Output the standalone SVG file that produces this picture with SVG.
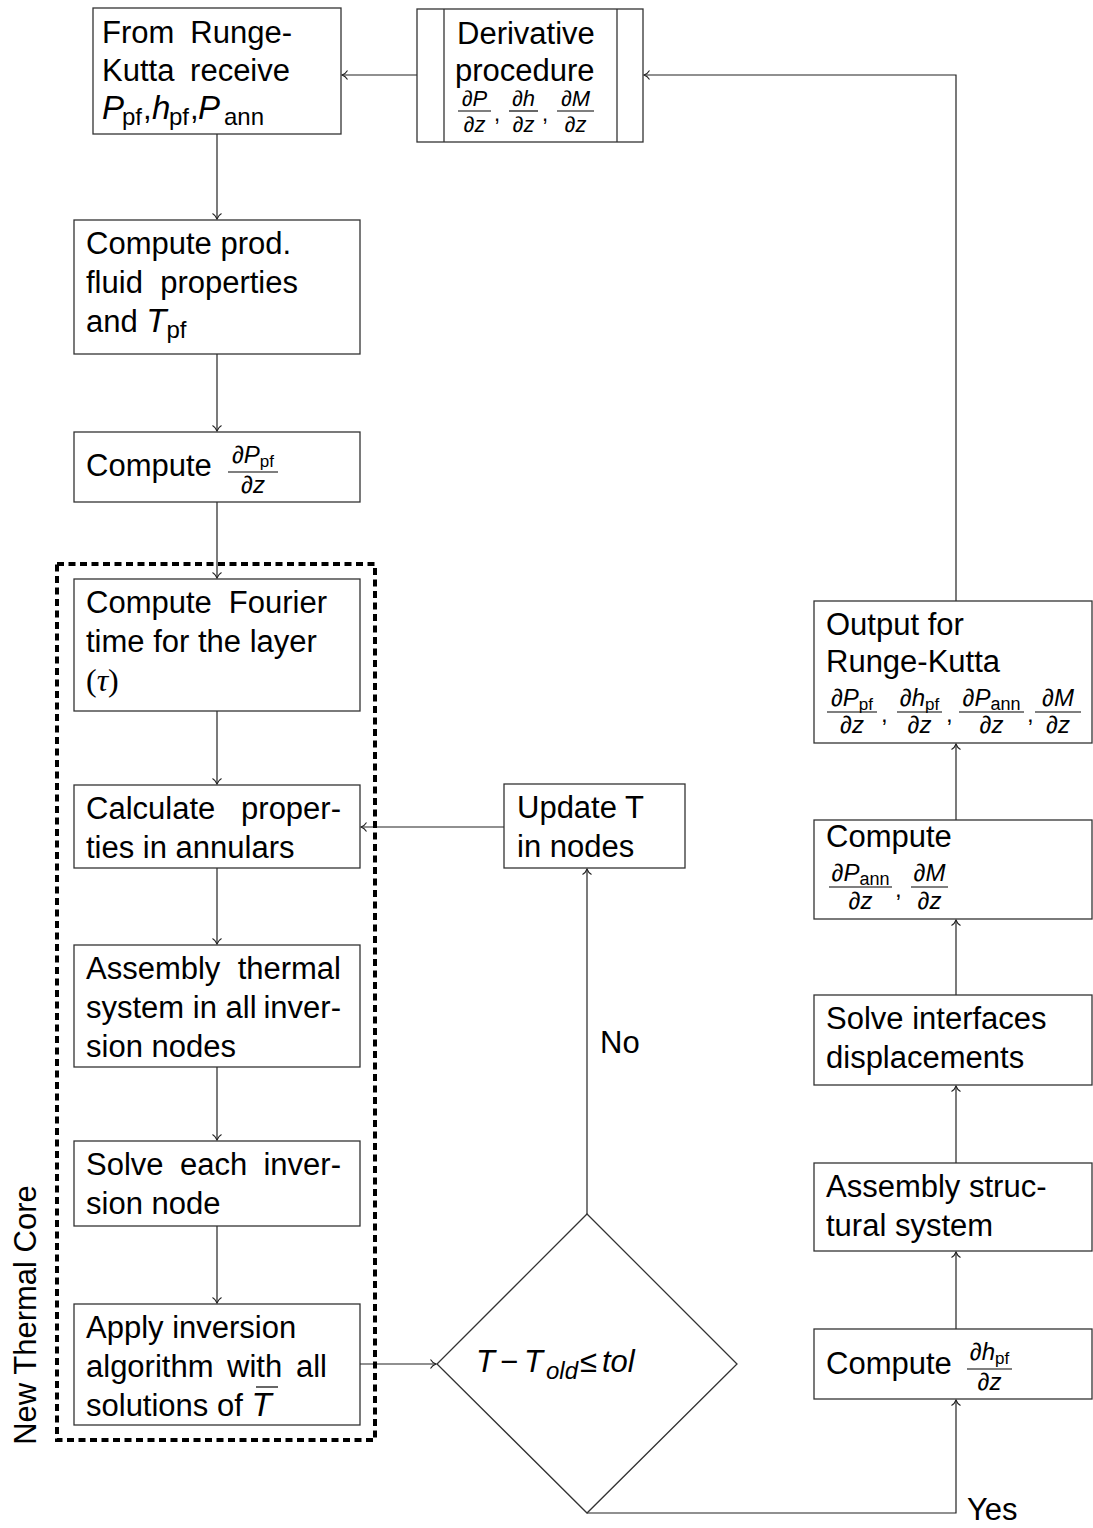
<svg xmlns="http://www.w3.org/2000/svg" width="1093" height="1528" viewBox="0 0 1093 1528">
<defs>
<style>
.box{fill:#fff;stroke:#333;stroke-width:1.3}
.t{font-family:"Liberation Sans",Arial,sans-serif;font-size:31px;fill:#000}
.m{font-style:italic}
.f{font-size:24px}
.fd{font-size:22px}
.fs{font-size:17px}
.sub{font-size:24px}
.bar{stroke:#000;stroke-width:1.2}
.conn{stroke:#222;stroke-width:1.2;fill:none;marker-end:url(#arr)}
.core{fill:none;stroke:#000;stroke-width:4;stroke-dasharray:7 4.5}
</style>
<marker id="arr" markerUnits="userSpaceOnUse" markerWidth="12" markerHeight="12" viewBox="-7 -6 8 12" refX="0" refY="0" orient="auto">
<path d="M -5.5 -4.5 C -3.8 -1.6 -1.5 -0.5 0 0 C -1.5 0.5 -3.8 1.6 -5.5 4.5" fill="none" stroke="#222" stroke-width="1.1"/>
</marker>
</defs>
<rect width="1093" height="1528" fill="#fff"/>

<g id="connectors">
<path class="conn" d="M417 75 H342"/>
<path class="conn" d="M956 601 V75 H644"/>
<path class="conn" d="M217 134 V219"/>
<path class="conn" d="M217 354 V431"/>
<path class="conn" d="M217 502 V578"/>
<path class="conn" d="M217 711 V784"/>
<path class="conn" d="M217 868 V944"/>
<path class="conn" d="M217 1067 V1140"/>
<path class="conn" d="M217 1226 V1303"/>
<path class="conn" d="M360 1364 H436"/>
<path class="conn" d="M587 1214 V869"/>
<path class="conn" d="M504 827 H361"/>
<path class="conn" d="M587 1513 H956 V1400"/>
<path class="conn" d="M956 1329 V1252"/>
<path class="conn" d="M956 1163 V1086"/>
<path class="conn" d="M956 995 V920"/>
<path class="conn" d="M956 820 V744"/>
</g>

<g id="thermal-core">
<rect class="core" x="57" y="564" width="318" height="876"/>
<text class="t" font-size="31" transform="translate(36,1315) rotate(-90)" text-anchor="middle">New Thermal Core</text>
</g>

<g id="node-receive">
<rect class="box" x="93" y="8" width="248" height="126"/>
<text class="t" y="43"><tspan x="102">From</tspan><tspan x="292" text-anchor="end">Runge-</tspan></text>
<text class="t" y="81"><tspan x="102">Kutta</tspan><tspan x="290" text-anchor="end">receive</tspan></text>
<text class="t" y="119"><tspan x="102" class="m" font-size="33">P</tspan><tspan x="122" class="sub" dy="6">pf</tspan><tspan x="143" dy="-6">,</tspan><tspan x="152" class="m" font-size="33">h</tspan><tspan x="169" class="sub" dy="6">pf</tspan><tspan x="190" dy="-6">,</tspan><tspan x="198" class="m" font-size="33">P</tspan><tspan x="224" class="sub" dy="6" font-size="27">ann</tspan></text>
</g>

<g id="node-derivative">
<rect class="box" x="417" y="9" width="226" height="133"/>
<line x1="444" y1="9" x2="444" y2="142" stroke="#333" stroke-width="1.3"/>
<line x1="617" y1="9" x2="617" y2="142" stroke="#333" stroke-width="1.3"/>
<text class="t" x="457" y="44">Derivative</text>
<text class="t" x="455" y="81">procedure</text>
<text class="t fd m" x="474.5" y="106" text-anchor="middle">∂P</text>
<line class="bar" x1="458" y1="111" x2="491" y2="111"/>
<text class="t fd m" x="474.5" y="132" text-anchor="middle">∂z</text>
<text class="t fd" x="494" y="121">,</text>
<text class="t fd m" x="523.5" y="106" text-anchor="middle">∂h</text>
<line class="bar" x1="509" y1="111" x2="538" y2="111"/>
<text class="t fd m" x="523.5" y="132" text-anchor="middle">∂z</text>
<text class="t fd" x="542" y="121">,</text>
<text class="t fd m" x="575.5" y="106" text-anchor="middle">∂M</text>
<line class="bar" x1="557" y1="111" x2="594" y2="111"/>
<text class="t fd m" x="575.5" y="132" text-anchor="middle">∂z</text>
</g>

<g id="node-prod">
<rect class="box" x="74" y="220" width="286" height="134"/>
<text class="t" x="86" y="254">Compute prod.</text>
<text class="t" y="293"><tspan x="86">fluid</tspan><tspan x="298" text-anchor="end">properties</tspan></text>
<text class="t" x="86" y="332">and <tspan class="m" font-size="33">T</tspan><tspan class="sub" dy="6">pf</tspan></text>
</g>

<g id="node-dppf">
<rect class="box" x="74" y="432" width="286" height="70"/>
<text class="t" x="86" y="476">Compute</text>
<text class="t f" x="253" y="463" text-anchor="middle"><tspan class="m">∂P</tspan><tspan class="fs" dy="4">pf</tspan></text>
<line class="bar" x1="228" y1="472" x2="278" y2="472"/>
<text class="t f m" x="253" y="493" text-anchor="middle">∂z</text>
</g>

<g id="node-fourier">
<rect class="box" x="74" y="579" width="286" height="132"/>
<text class="t" y="613"><tspan x="86">Compute</tspan><tspan x="327" text-anchor="end">Fourier</tspan></text>
<text class="t" x="86" y="652">time for the layer</text>
<text x="86" y="691" font-family="'Liberation Serif',serif" font-size="32">(<tspan font-style="italic">τ</tspan>)</text>
</g>

<g id="node-calculate">
<rect class="box" x="74" y="785" width="286" height="83"/>
<text class="t" y="819"><tspan x="86">Calculate</tspan><tspan x="341" text-anchor="end">proper-</tspan></text>
<text class="t" x="86" y="858">ties in annulars</text>
</g>

<g id="node-assembly-thermal">
<rect class="box" x="74" y="945" width="286" height="122"/>
<text class="t" y="979"><tspan x="86">Assembly</tspan><tspan x="341" text-anchor="end">thermal</tspan></text>
<text class="t" y="1018"><tspan x="86">system in all</tspan><tspan x="341" text-anchor="end">inver-</tspan></text>
<text class="t" x="86" y="1057">sion nodes</text>
</g>

<g id="node-solve-inversion">
<rect class="box" x="74" y="1141" width="286" height="85"/>
<text class="t" y="1175"><tspan x="86">Solve</tspan><tspan x="180">each</tspan><tspan x="341" text-anchor="end">inver-</tspan></text>
<text class="t" x="86" y="1214">sion node</text>
</g>

<g id="node-apply">
<rect class="box" x="74" y="1304" width="286" height="121"/>
<text class="t" x="86" y="1338">Apply inversion</text>
<text class="t" y="1377"><tspan x="86">algorithm</tspan><tspan x="227">with</tspan><tspan x="327" text-anchor="end">all</tspan></text>
<text class="t" x="86" y="1416">solutions of <tspan class="m" font-size="33">T</tspan></text>
<line class="bar" x1="256" y1="1387" x2="278" y2="1387"/>
</g>

<g id="node-decision">
<polygon class="box" points="587,1214 737,1364 587,1513 437,1364"/>
<text class="t m" y="1372" font-size="33"><tspan x="476">T</tspan><tspan x="500" font-style="normal" font-size="31">−</tspan><tspan x="524">T</tspan><tspan x="546" class="sub" dy="7">old</tspan><tspan x="580" dy="-7" font-style="normal" font-size="31">≤</tspan><tspan x="602">tol</tspan></text>
<text class="t" x="600" y="1053">No</text>
<text class="t" x="967" y="1520">Yes</text>
</g>

<g id="node-update">
<rect class="box" x="504" y="784" width="181" height="84"/>
<text class="t" x="517" y="818">Update T</text>
<text class="t" x="517" y="857">in nodes</text>
</g>

<g id="node-output">
<rect class="box" x="814" y="601" width="278" height="142"/>
<text class="t" x="826" y="635">Output for</text>
<text class="t" x="826" y="672">Runge-Kutta</text>
<text class="t f" x="852" y="706" text-anchor="middle"><tspan class="m">∂P</tspan><tspan class="fs" dy="4">pf</tspan></text>
<line class="bar" x1="827" y1="712" x2="877" y2="712"/>
<text class="t f m" x="852" y="733" text-anchor="middle">∂z</text>
<text class="t f" x="881" y="722">,</text>
<text class="t f" x="919.5" y="706" text-anchor="middle"><tspan class="m">∂h</tspan><tspan class="fs" dy="4">pf</tspan></text>
<line class="bar" x1="897" y1="712" x2="942" y2="712"/>
<text class="t f m" x="919.5" y="733" text-anchor="middle">∂z</text>
<text class="t f" x="946" y="722">,</text>
<text class="t f" x="991.5" y="706" text-anchor="middle"><tspan class="m">∂P</tspan><tspan font-size="18" dy="4">ann</tspan></text>
<line class="bar" x1="959" y1="712" x2="1024" y2="712"/>
<text class="t f m" x="991.5" y="733" text-anchor="middle">∂z</text>
<text class="t f" x="1027" y="722">,</text>
<text class="t f m" x="1058" y="706" text-anchor="middle">∂M</text>
<line class="bar" x1="1035" y1="712" x2="1081" y2="712"/>
<text class="t f m" x="1058" y="733" text-anchor="middle">∂z</text>
</g>

<g id="node-compute-ann">
<rect class="box" x="814" y="820" width="278" height="99"/>
<text class="t" x="826" y="847">Compute</text>
<text class="t f" x="860.5" y="881" text-anchor="middle"><tspan class="m">∂P</tspan><tspan font-size="18" dy="4">ann</tspan></text>
<line class="bar" x1="829" y1="887" x2="892" y2="887"/>
<text class="t f m" x="860.5" y="909" text-anchor="middle">∂z</text>
<text class="t f" x="895" y="897">,</text>
<text class="t f m" x="929.5" y="881" text-anchor="middle">∂M</text>
<line class="bar" x1="911" y1="887" x2="948" y2="887"/>
<text class="t f m" x="929.5" y="909" text-anchor="middle">∂z</text>
</g>

<g id="node-solve-interfaces">
<rect class="box" x="814" y="995" width="278" height="90"/>
<text class="t" x="826" y="1029">Solve interfaces</text>
<text class="t" x="826" y="1068">displacements</text>
</g>

<g id="node-assembly-structural">
<rect class="box" x="814" y="1163" width="278" height="88"/>
<text class="t" x="826" y="1197">Assembly struc-</text>
<text class="t" x="826" y="1236">tural system</text>
</g>

<g id="node-compute-dh">
<rect class="box" x="814" y="1329" width="278" height="70"/>
<text class="t" x="826" y="1374">Compute</text>
<text class="t f" x="989.5" y="1360" text-anchor="middle"><tspan class="m">∂h</tspan><tspan class="fs" dy="4">pf</tspan></text>
<line class="bar" x1="967" y1="1369" x2="1012" y2="1369"/>
<text class="t f m" x="989.5" y="1390" text-anchor="middle">∂z</text>
</g>
</svg>
